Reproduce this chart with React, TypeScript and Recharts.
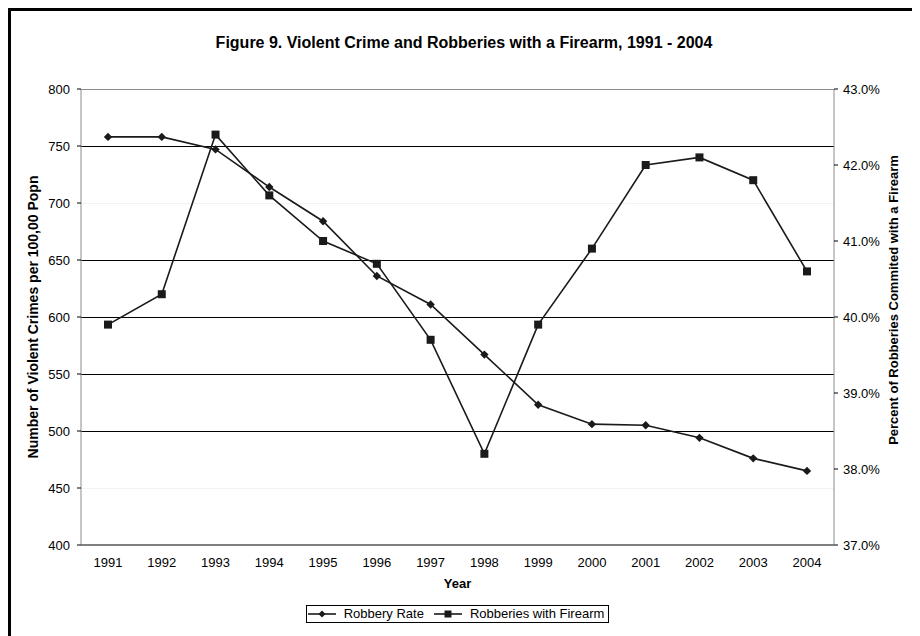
import React from 'react';
import { LineChart, Line, XAxis, YAxis, ReferenceLine, Legend, Label } from 'recharts';

const years = ['1991', '1992', '1993', '1994', '1995', '1996', '1997', '1998', '1999', '2000', '2001', '2002', '2003', '2004'];
const robberyRate = [758, 758, 747, 714, 684, 636, 611, 567, 523, 506, 505, 494, 476, 465];
const firearmPct = [39.9, 40.3, 42.4, 41.6, 41.0, 40.7, 39.7, 38.2, 39.9, 40.9, 42.0, 42.1, 41.8, 40.6];
const seriesNames = ['Robbery Rate', 'Robberies with Firearm'];
const leftTicks = [400, 450, 500, 550, 600, 650, 700, 750, 800];
const rightTicks = [37, 38, 39, 40, 41, 42, 43];
const darkGridValues = [750, 650, 600, 550, 500];
const faintGridValues = [700, 450];

const data = years.map((year, i) => ({ year, rate: robberyRate[i], firearm: firearmPct[i] }));

const FONT = '"Liberation Sans", Arial, Helvetica, sans-serif';
const INK = '#1a1a1a';

const Diamond = (props: any) => {
  const { cx, cy, index } = props;
  if (cx == null || cy == null) return null;
  const r = 4.2;
  return <path key={`d-${index}`} d={`M${cx},${cy - r}L${cx + r},${cy}L${cx},${cy + r}L${cx - r},${cy}Z`} fill={INK} />;
};

const Square = (props: any) => {
  const { cx, cy, index } = props;
  if (cx == null || cy == null) return null;
  return <rect key={`s-${index}`} x={cx - 4} y={cy - 4} width={8} height={8} fill={INK} />;
};

const LegendIcon = ({ kind }: { kind: string }) => (
  <svg width={28} height={10} style={{ display: 'block' }}>
    <line x1={0} y1={5} x2={28} y2={5} stroke={INK} strokeWidth={1.6} />
    {kind === 'rate' ? (
      <path d="M14,1.5L17.5,5L14,8.5L10.5,5Z" fill={INK} />
    ) : (
      <rect x={10.5} y={1.5} width={7} height={7} fill={INK} />
    )}
  </svg>
);

const LegendBox = (props: any) => {
  const payload = [...(props.payload || [])].sort(
    (a: any, b: any) => seriesNames.indexOf(a.value) - seriesNames.indexOf(b.value)
  );
  return (
    <div style={{ display: 'flex', justifyContent: 'center', height: 18 }}>
      <div
        style={{
          display: 'flex',
          alignItems: 'center',
          height: 18,
          boxSizing: 'border-box',
          border: '1px solid #000',
          padding: '0 4px 0 1px',
          fontFamily: FONT,
          fontSize: 13,
          color: '#000',
          background: '#fff',
        }}
      >
        {payload.map((entry: any, i: number) => (
          <div key={entry.dataKey} style={{ display: 'flex', alignItems: 'center', marginLeft: i === 0 ? 0 : 10 }}>
            <LegendIcon kind={entry.dataKey} />
            <span style={{ marginLeft: 8, lineHeight: '16px' }}>{entry.value}</span>
          </div>
        ))}
      </div>
    </div>
  );
};

const LeftTitle = (props: any) => {
  const vb = props.viewBox;
  const x = vb.x + 22;
  const y = vb.y + vb.height / 2;
  return (
    <text x={x} y={y} transform={`rotate(-90 ${x} ${y})`} textAnchor="middle" dominantBaseline="central"
      fontFamily={FONT} fontSize={14} fontWeight="bold" fill="#000">
      Number of Violent Crimes per 100,00 Popn
    </text>
  );
};

const RightTitle = (props: any) => {
  const vb = props.viewBox;
  const x = vb.x + 59;
  const y = vb.y + vb.height / 2 - 17;
  return (
    <text x={x} y={y} transform={`rotate(-90 ${x} ${y})`} textAnchor="middle" dominantBaseline="central"
      fontFamily={FONT} fontSize={13} fontWeight="bold" fill="#000">
      Percent of Robberies Commited with a Firearm
    </text>
  );
};

const XTitle = (props: any) => {
  const vb = props.viewBox;
  return (
    <text x={vb.x + vb.width / 2} y={vb.y + 38} textAnchor="middle" dominantBaseline="central"
      fontFamily={FONT} fontSize={13} fontWeight="bold" fill="#000">
      Year
    </text>
  );
};

const tickStyle = { fill: '#000', fontSize: 13, fontFamily: FONT };

export default function App() {
  return (
    <div style={{ position: 'relative', width: 916, height: 640, border: '3px solid #000', background: '#fff' }}>
      <style>{'html,body{overflow:hidden;}'}</style>
      <div
        style={{
          position: 'absolute',
          top: 23,
          left: 0,
          width: 906,
          textAlign: 'center',
          fontFamily: FONT,
          fontSize: 16,
          fontWeight: 'bold',
          lineHeight: '18px',
          color: '#000',
        }}
      >
        Figure 9. Violent Crime and Robberies with a Firearm, 1991 - 2004
      </div>
      <div style={{ position: 'absolute', top: 0, left: 0 }}>
        <LineChart width={905} height={620} data={data} margin={{ top: 78, right: 12, left: 0, bottom: 8 }}>
          <XAxis
            dataKey="year"
            padding={{ left: 27, right: 27 }}
            axisLine={{ stroke: '#000', strokeWidth: 1.2 }}
            tickLine={false}
            tickSize={6}
            tickMargin={7}
            height={60}
            tick={tickStyle}
            interval={0}
          >
            <Label content={XTitle} />
          </XAxis>
          <YAxis
            yAxisId="left"
            domain={[400, 800]}
            ticks={leftTicks}
            width={70}
            axisLine={{ stroke: '#8c8c8c' }}
            tickLine={{ stroke: '#000' }}
            tickSize={4}
            tickMargin={7}
            tick={tickStyle}
            interval={0}
          >
            <Label content={LeftTitle} />
          </YAxis>
          <YAxis
            yAxisId="right"
            orientation="right"
            domain={[37, 43]}
            ticks={rightTicks}
            width={70}
            axisLine={{ stroke: '#8c8c8c' }}
            tickLine={{ stroke: '#000' }}
            tickSize={4}
            tickMargin={5}
            tick={tickStyle}
            interval={0}
            tickFormatter={(v: number) => `${v.toFixed(1)}%`}
          >
            <Label content={RightTitle} />
          </YAxis>
          <ReferenceLine yAxisId="left" y={800} stroke="#8c8c8c" shapeRendering="crispEdges" />
          {faintGridValues.map((v) => (
            <ReferenceLine key={`f-${v}`} yAxisId="left" y={v} stroke="#f2f2f2" shapeRendering="crispEdges" />
          ))}
          {darkGridValues.map((v) => (
            <ReferenceLine key={`g-${v}`} yAxisId="left" y={v} stroke="#000" shapeRendering="crispEdges" />
          ))}
          <Legend verticalAlign="bottom" content={LegendBox} />
          <Line
            yAxisId="left"
            type="linear"
            dataKey="rate"
            name="Robbery Rate"
            stroke={INK}
            strokeWidth={1.6}
            dot={Diamond}
            activeDot={false}
            isAnimationActive={false}
          />
          <Line
            yAxisId="right"
            type="linear"
            dataKey="firearm"
            name="Robberies with Firearm"
            stroke={INK}
            strokeWidth={1.6}
            dot={Square}
            activeDot={false}
            isAnimationActive={false}
          />
        </LineChart>
      </div>
    </div>
  );
}
